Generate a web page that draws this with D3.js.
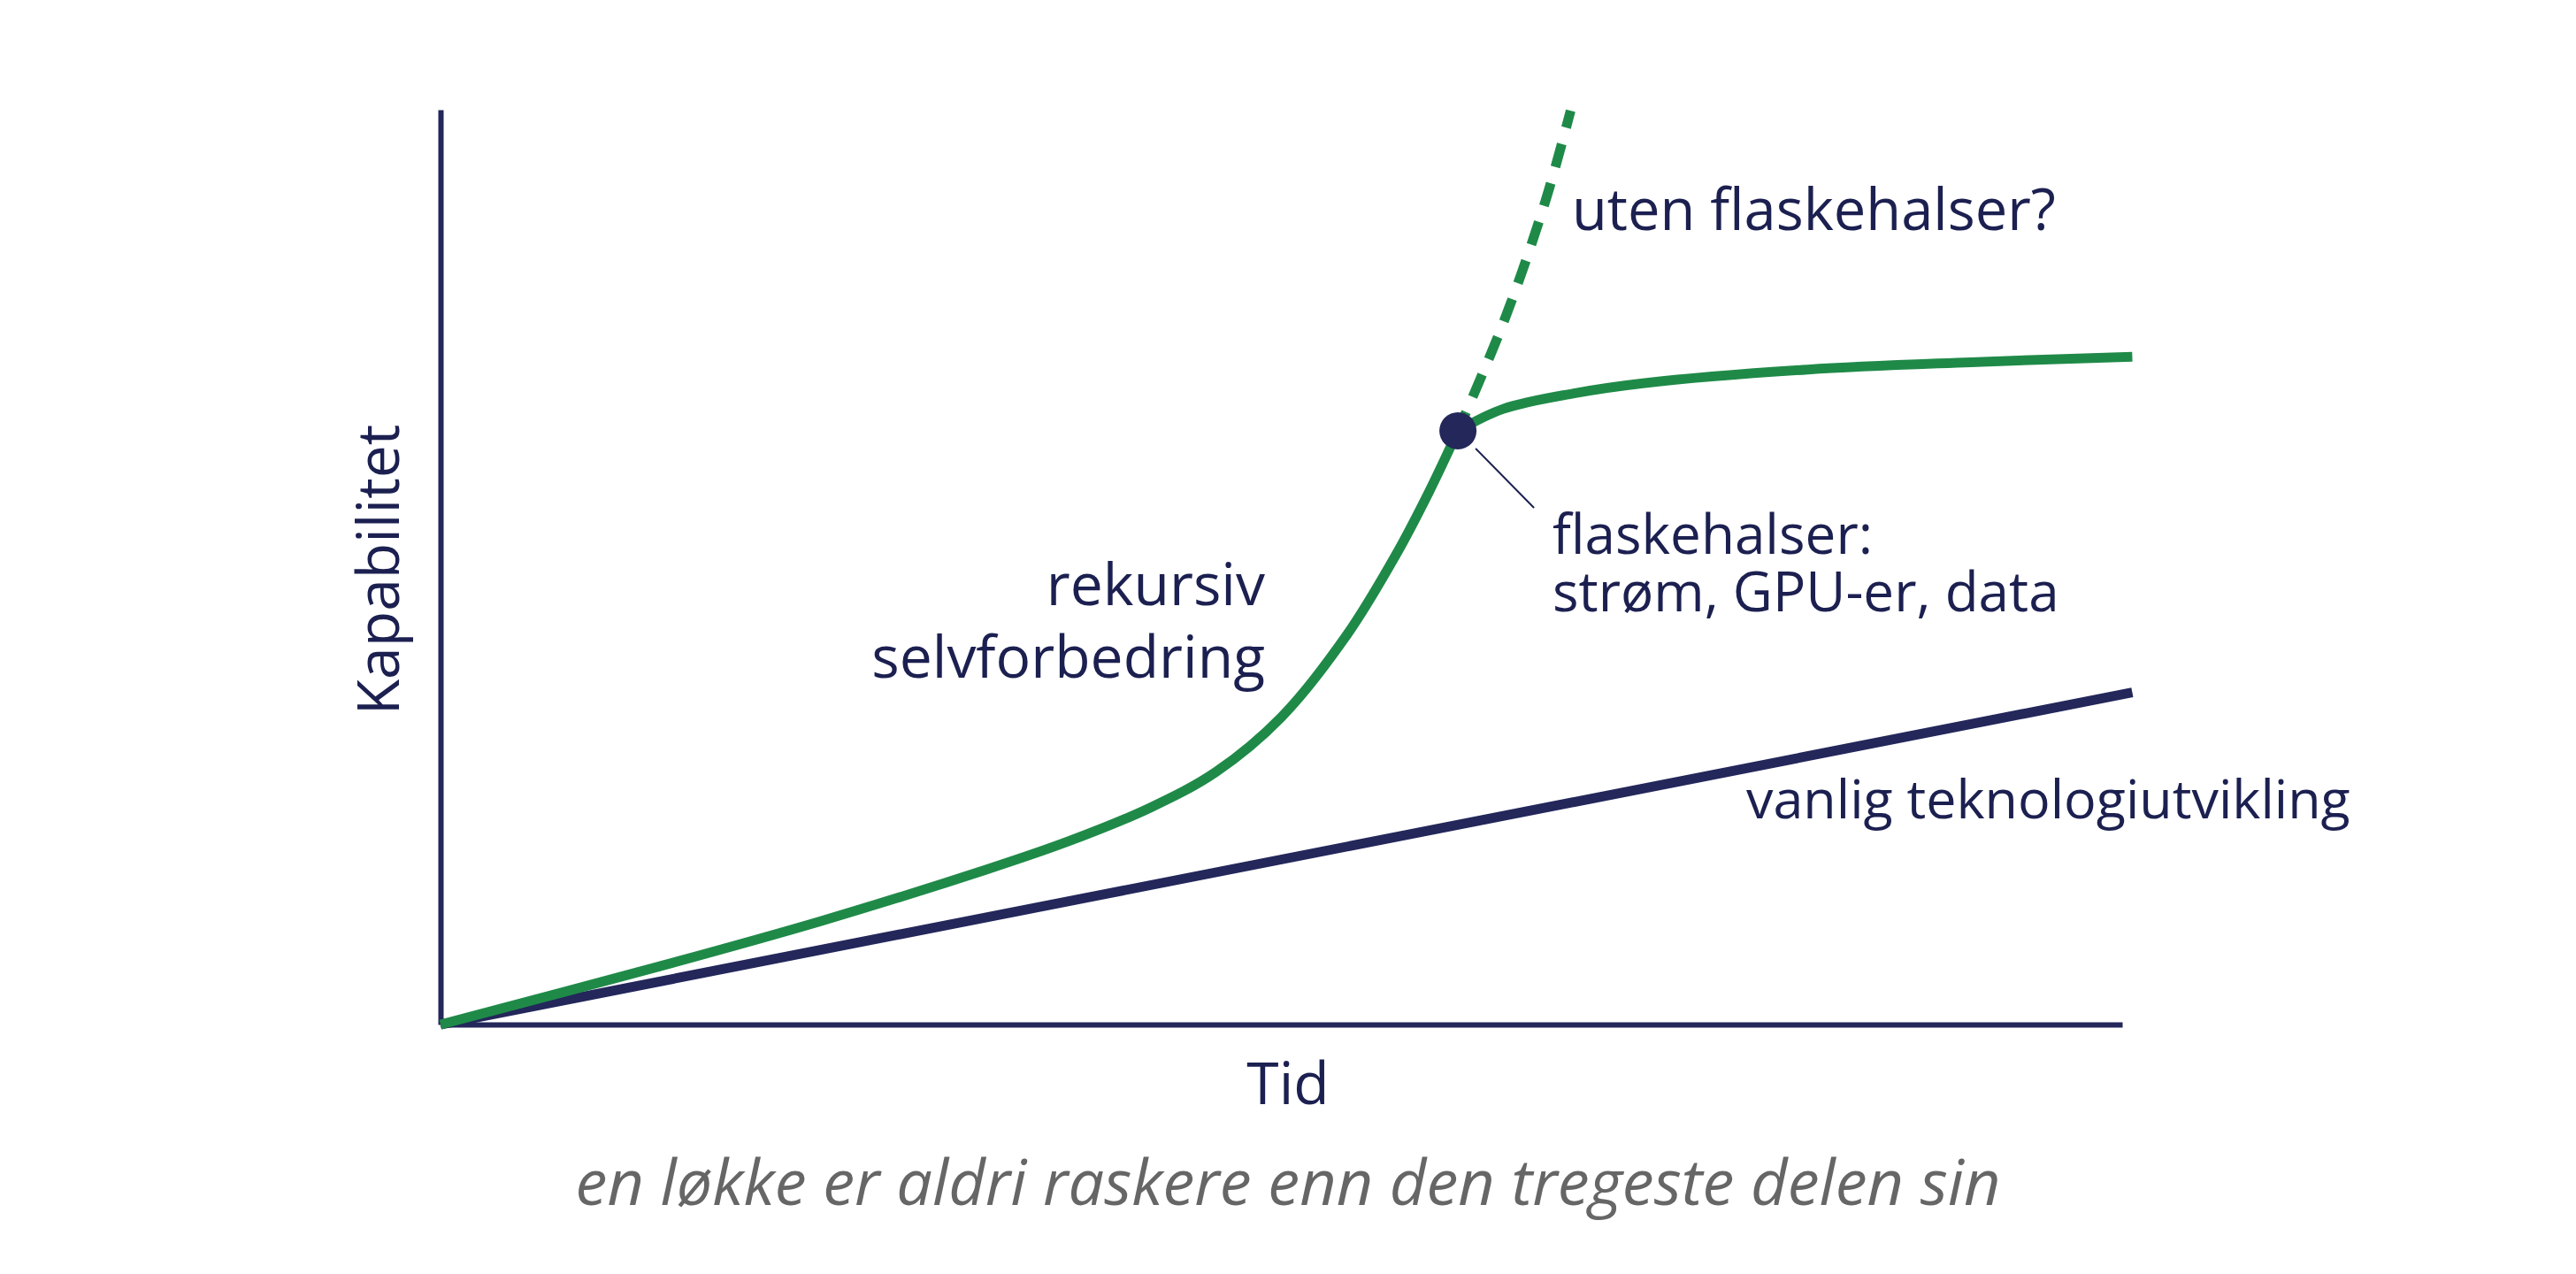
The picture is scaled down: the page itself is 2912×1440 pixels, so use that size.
<!DOCTYPE html>
<html>
<head>
<meta charset="utf-8">
<script src="https://cdn.jsdelivr.net/npm/d3@7"></script>
<style>
  html, body { margin: 0; padding: 0; background: #ffffff; }
  svg text { font-family: "Open Sans", "Noto Sans", sans-serif; }
</style>
</head>
<body>
<svg id="chart" width="2912" height="1440"></svg>
<script>
// ---- data (time, capability) ----
const baselineSeries = [[0, 0], [100.6, 36.3]];
const recursiveRise = [[0, 0], [12.9, 6.3], [22.6, 11.3], [32.4, 16.9], [37.3, 20.0], [42.2, 23.7], [46.1, 27.6], [50.0, 33.6], [53.9, 42.6], [56.8, 51.3], [58.8, 58.3], [60.5, 64.9]];
const bottleneckPlateau = [[60.5, 64.9], [63.2, 67.3], [67.4, 69.0], [71.5, 70.1], [81.3, 71.6], [91.0, 72.4], [100.6, 73.0]];
const unboundedPath = [[60.5, 64.9], [63.2, 76.7], [65.7, 90.0], [67.2, 99.9]];
const bottleneckPoint = [60.5, 64.9];
const axisLabels = { x: "Tid", y: "Kapabilitet" };
const labelUnbounded = ["uten flaskehalser?"];
const labelBottleneck = ["flaskehalser:", "strøm, GPU-er, data"];
const labelRecursive = ["rekursiv", "selvforbedring"];
const labelBaseline = ["vanlig teknologiutvikling"];
const subtitle = "en løkke er aldri raskere enn den tregeste delen sin";

// ---- layout ----
const navy = "#23275a", green = "#1f8a48", textCol = "#1c2050";
const svg = d3.select("#chart");
const x = d3.scaleLinear().domain([0, 100]).range([498, 2399]);
const y = d3.scaleLinear().domain([0, 100]).range([1158, 124]);

// axes (domain lines only)
const xAxis = svg.append("g").attr("transform", `translate(0,${y(0)})`)
  .call(d3.axisBottom(x).tickValues([]).tickSizeOuter(0));
const yAxis = svg.append("g").attr("transform", `translate(${x(0)},0)`)
  .call(d3.axisLeft(y).tickValues([]).tickSizeOuter(0));
[xAxis, yAxis].forEach(g => g.select(".domain").attr("stroke", navy).attr("stroke-width", 6));

const line = d3.line().x(d => x(d[0])).y(d => y(d[1])).curve(d3.curveCatmullRom.alpha(0.5));

svg.append("path").datum(baselineSeries).attr("d", line)
  .attr("fill", "none").attr("stroke", navy).attr("stroke-width", 11).attr("stroke-linecap", "butt");

svg.append("path").datum(unboundedPath.slice().reverse()).attr("d", line)
  .attr("fill", "none").attr("stroke", green).attr("stroke-width", 11)
  .attr("stroke-dasharray", "27,19").attr("stroke-dashoffset", 7);

svg.append("path").datum(recursiveRise).attr("d", line)
  .attr("fill", "none").attr("stroke", green).attr("stroke-width", 11).attr("stroke-linecap", "butt");
svg.append("path").datum(bottleneckPlateau).attr("d", line)
  .attr("fill", "none").attr("stroke", green).attr("stroke-width", 11).attr("stroke-linecap", "butt");

// leader line from point
const px = x(bottleneckPoint[0]), py = y(bottleneckPoint[1]);
svg.append("line").attr("x1", px + 20).attr("y1", py + 20).attr("x2", px + 86).attr("y2", py + 87)
  .attr("stroke", textCol).attr("stroke-width", 2);
svg.append("circle").attr("cx", px).attr("cy", py).attr("r", 21).attr("fill", navy);

// labels (multi-line via tspans)
function label(lines, xx, yy, size, lh, anchor) {
  const t = svg.append("text").attr("x", xx).attr("y", yy).attr("font-size", size)
    .attr("fill", textCol).attr("text-anchor", anchor || "start");
  lines.forEach((s, i) => t.append("tspan").attr("x", xx).attr("dy", i ? lh : 0).text(s));
  return t;
}
label(labelUnbounded, 1777, 260, 65, 0);
label(labelBottleneck, 1755, 626, 62, 65);
label(labelRecursive, 1430, 684, 66, 82, "end");
label(labelBaseline, 1974, 925, 61, 0);
svg.append("text").text(axisLabels.x)
  .attr("x", 1456).attr("y", 1248).attr("text-anchor", "middle")
  .attr("font-size", 66).attr("fill", textCol);
svg.append("text").text(axisLabels.y)
  .attr("transform", "translate(451,644) rotate(-90)")
  .attr("text-anchor", "middle").attr("font-size", 66).attr("fill", textCol);
svg.append("text").text(subtitle)
  .attr("x", 1456).attr("y", 1362).attr("text-anchor", "middle")
  .attr("font-size", 72).attr("font-style", "italic").attr("fill", "#666666");
</script>
</body>
</html>
